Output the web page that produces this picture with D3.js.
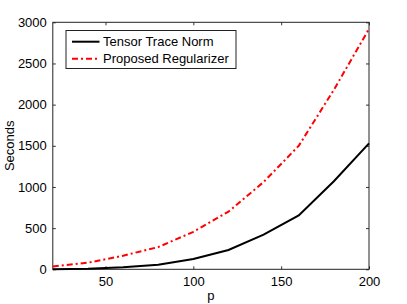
<!DOCTYPE html>
<html lang="en">
<head>
<meta charset="utf-8">
<title>Seconds vs p</title>
<script src="https://d3js.org/d3.v7.min.js"></script>
<style>
  body { margin: 0; background: white; }
  svg { display: block; font-family: "Liberation Sans", Arial, Helvetica, sans-serif; }
</style>
</head>
<body>
<script>
// data
var pValues = [20, 40, 60, 80, 100, 120, 140, 160, 180, 200];
var traceNorm = [2, 6, 24, 55, 125, 235, 420, 655, 1070, 1530];
var proposed = [35, 80, 165, 270, 455, 700, 1060, 1500, 2180, 2920];
var xTicks = [50, 100, 150, 200];
var yTicks = [0, 500, 1000, 1500, 2000, 2500, 3000];
var seriesNames = ["Tensor Trace Norm", "Proposed Regularizer"];

var w = 407, h = 304;
var plotLeft = 52.8, plotRight = 369, plotTop = 22.3, plotBottom = 269.3;

var svg = d3.select("body").append("svg")
  .attr("width", w).attr("height", h);

var x = d3.scaleLinear().domain([20, 200]).range([plotLeft, plotRight]);
var y = d3.scaleLinear().domain([0, 3000]).range([plotBottom, plotTop]);

// axes, ticks inward like matlab
var tickLen = 3;
svg.append("g")
  .attr("transform", "translate(0," + plotBottom + ")")
  .call(d3.axisBottom(x).tickValues(xTicks).tickFormat(d3.format("d"))
    .tickSizeInner(-tickLen).tickSizeOuter(0).tickPadding(7))
  .call(function(g) { g.select(".domain").remove(); });
svg.append("g")
  .attr("transform", "translate(" + plotLeft + ",0)")
  .call(d3.axisLeft(y).tickValues(yTicks).tickFormat(d3.format("d"))
    .tickSizeInner(-tickLen).tickSizeOuter(0).tickPadding(6))
  .call(function(g) { g.select(".domain").remove(); });
svg.append("g")
  .attr("transform", "translate(0," + plotTop + ")")
  .call(d3.axisTop(x).tickValues(xTicks).tickSizeInner(-tickLen).tickSizeOuter(0).tickFormat(""))
  .call(function(g) { g.select(".domain").remove(); });
svg.append("g")
  .attr("transform", "translate(" + plotRight + ",0)")
  .call(d3.axisRight(y).tickValues(yTicks).tickSizeInner(-tickLen).tickSizeOuter(0).tickFormat(""))
  .call(function(g) { g.select(".domain").remove(); });

svg.selectAll(".tick text")
  .attr("font-size", 13)
  .attr("font-family", "Liberation Sans, Arial, sans-serif")
  .attr("fill", "#000");
svg.selectAll(".tick line").attr("stroke", "#333");

// box
svg.append("rect")
  .attr("x", plotLeft).attr("y", plotTop)
  .attr("width", plotRight - plotLeft).attr("height", plotBottom - plotTop)
  .attr("fill", "none").attr("stroke", "#222").attr("stroke-width", 1);

// lines
var line = d3.line()
  .x(function(d) { return x(d[0]); })
  .y(function(d) { return y(d[1]); });

svg.append("path")
  .datum(pValues.map(function(p, i) { return [p, traceNorm[i]]; }))
  .attr("d", line)
  .attr("fill", "none")
  .attr("stroke", "black")
  .attr("stroke-width", 2);

svg.append("path")
  .datum(pValues.map(function(p, i) { return [p, proposed[i]]; }))
  .attr("d", line)
  .attr("fill", "none")
  .attr("stroke", "red")
  .attr("stroke-width", 2)
  .attr("stroke-dasharray", "6,3,2,3");

// labels
svg.append("text")
  .attr("x", (plotLeft + plotRight) / 2).attr("y", 300)
  .attr("text-anchor", "middle")
  .attr("font-size", 13)
  .text("p");
svg.append("text")
  .attr("transform", "translate(13.5," + ((plotTop + plotBottom) / 2) + ") rotate(-90)")
  .attr("text-anchor", "middle")
  .attr("font-size", 13)
  .text("Seconds");

// legend
var legend = svg.append("g");
legend.append("rect")
  .attr("x", 66).attr("y", 30.5)
  .attr("width", 170).attr("height", 38)
  .attr("fill", "white").attr("stroke", "#222").attr("stroke-width", 1);

var styles = [
  { color: "black", dash: null },
  { color: "red", dash: "6,3,2,3" }
];
seriesNames.forEach(function(name, i) {
  var cy = 41.7 + i * 17;
  legend.append("line")
    .attr("x1", 72).attr("x2", 99.5)
    .attr("y1", cy).attr("y2", cy)
    .attr("stroke", styles[i].color)
    .attr("stroke-width", 2)
    .attr("stroke-dasharray", styles[i].dash);
  legend.append("text")
    .attr("x", 103).attr("y", cy + 4.5)
    .attr("font-size", 13)
    .text(name);
});
</script>
</body>
</html>
